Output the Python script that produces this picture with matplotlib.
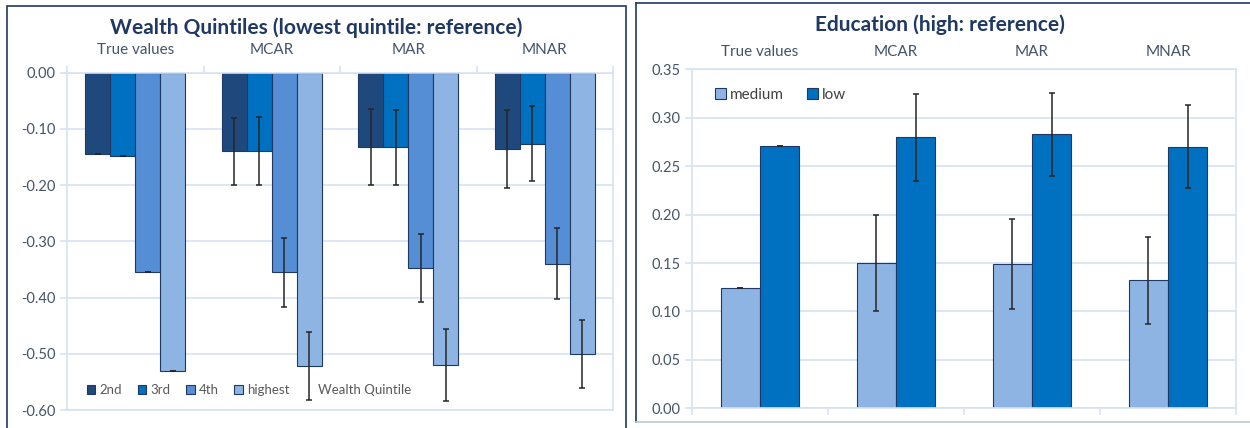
import matplotlib
matplotlib.use("Agg")
import matplotlib.pyplot as plt
import matplotlib.transforms as mtransforms
import numpy as np
from matplotlib.patches import Rectangle, Patch
from matplotlib.lines import Line2D

plt.rcParams['font.family'] = ['Lato', 'DejaVu Sans']

# data
groups = ['True values', 'MCAR', 'MAR', 'MNAR']
quintiles = ['2nd', '3rd', '4th', 'highest']
wealth_2nd = [-0.145, -0.140, -0.132, -0.136]
wealth_3rd = [-0.148, -0.139, -0.133, -0.126]
wealth_4th = [-0.354, -0.355, -0.347, -0.340]
wealth_highest = [-0.530, -0.522, -0.520, -0.500]
err_2nd = [0, 0.060, 0.067, 0.069]
err_3rd = [0, 0.061, 0.066, 0.066]
err_4th = [0, 0.061, 0.060, 0.063]
err_highest = [0, 0.061, 0.064, 0.060]

edu_levels = ['medium', 'low']
edu_medium = [0.124, 0.150, 0.149, 0.132]
edu_low = [0.271, 0.280, 0.283, 0.270]
err_medium = [0, 0.050, 0.046, 0.045]
err_low = [0, 0.045, 0.043, 0.043]

wealth_colors = ['#1F497D', '#0070C0', '#558ED5', '#8EB4E3']
edu_colors = ['#8EB4E3', '#0070C0']
navy = '#1F3864'
text_col = '#44546A'
grid_col = '#D6E2F4'

W, H = 1250, 428
fig = plt.figure(figsize=(W / 100, H / 100), dpi=100)

# panel frames
fig.patches.append(Rectangle((7 / W, -0.05), 619 / W, 1 - 6 / H + 0.05, transform=fig.transFigure,
                             fill=False, edgecolor=navy, linewidth=1.2))
fig.add_artist(Line2D([636 / W, 636 / W], [1 - 422 / H, 1 - 3 / H], color=navy, lw=1.2))
fig.add_artist(Line2D([636 / W, 1.0], [1 - 3 / H, 1 - 3 / H], color=navy, lw=1.2))
fig.add_artist(Line2D([636 / W, 1.0], [1 - 422 / H, 1 - 422 / H], color='#BFC7D5', lw=1.2))


def fmt(v):
    return f'{abs(v) if abs(v) < 1e-9 else v:.2f}'


def style_axes(ax):
    ax.grid(axis='y', color=grid_col, linewidth=1.2)
    ax.set_axisbelow(True)
    for s in ax.spines.values():
        s.set_color(grid_col)
        s.set_linewidth(1.2)
    ax.tick_params(axis='y', colors=grid_col, labelcolor=text_col, labelsize=10.5, length=5, width=1.2)
    ax.tick_params(axis='x', colors=grid_col, length=5, width=1.2, labelbottom=False, labeltop=False)


x = np.arange(len(groups))

# ---- left: wealth quintiles
ax1 = fig.add_axes([67 / W, 1 - 410 / H, 546 / W, (410 - 72.7) / H])
bw = 0.183
series = [wealth_2nd, wealth_3rd, wealth_4th, wealth_highest]
errs = [err_2nd, err_3rd, err_4th, err_highest]
handles = []
for i, (vals, e) in enumerate(zip(series, errs)):
    pos = x + (i - 1.5) * bw
    b = ax1.bar(pos, vals, bw, color=wealth_colors[i], edgecolor=navy, linewidth=0.8, label=quintiles[i])
    ax1.errorbar(pos, vals, yerr=e, fmt='none', ecolor='#262626', elinewidth=1.1, capsize=2.2, capthick=1.1)
    handles.append(b)
ax1.set_xlim(-0.5, 3.5)
ax1.set_ylim(-0.6, 0)
yt1 = np.arange(-0.6, 0.01, 0.1)
ax1.set_yticks(yt1)
ax1.set_yticklabels([fmt(v) for v in yt1])
ax1.set_xticks(np.arange(-0.5, 3.6, 1))
ax1.xaxis.set_ticks_position('top')
style_axes(ax1)
handles.append(Patch(facecolor='none', edgecolor='none', label='Wealth Quintile'))
leg1 = ax1.legend(handles=handles, labels=quintiles + ['Wealth Quintile'], ncol=5, loc='center left',
                  bbox_to_anchor=(0.024, 0.059), frameon=False, fontsize=9.5, handlelength=0.65,
                  handleheight=0.65, handletextpad=0.3, columnspacing=1.2, borderpad=0)
for t in leg1.get_texts():
    t.set_color('#595959')
fig.text(316 / W, 1 - 28 / H, 'Wealth Quintiles (lowest quintile: reference)', ha='center', va='center',
         fontsize=15, fontweight='bold', color=navy)
tr1 = mtransforms.blended_transform_factory(ax1.transData, fig.transFigure)
for i, g in enumerate(groups):
    ax1.text(i, 1 - 50 / H, g, transform=tr1, ha='center', va='center', fontsize=11, color=text_col)

# ---- right: education
ax2 = fig.add_axes([692 / W, 1 - 408.3 / H, 544 / W, 339 / H])
bw2 = 0.287
eseries = [edu_medium, edu_low]
eerrs = [err_medium, err_low]
handles2 = []
for i, (vals, e) in enumerate(zip(eseries, eerrs)):
    pos = x + (i - 0.5) * bw2
    b = ax2.bar(pos, vals, bw2, color=edu_colors[i], edgecolor=navy, linewidth=0.8, label=edu_levels[i])
    ax2.errorbar(pos, vals, yerr=e, fmt='none', ecolor='#262626', elinewidth=1.1, capsize=2.2, capthick=1.1)
    handles2.append(b)
ax2.set_xlim(-0.5, 3.5)
ax2.set_ylim(0, 0.35)
yt2 = np.arange(0, 0.351, 0.05)
ax2.set_yticks(yt2)
ax2.set_yticklabels([fmt(v) for v in yt2])
ax2.set_xticks(np.arange(-0.5, 3.6, 1))
style_axes(ax2)
leg2 = ax2.legend(handles=handles2, labels=edu_levels, ncol=2, loc='center left',
                  bbox_to_anchor=(0.028, 0.925), frameon=False, fontsize=11, handlelength=0.7,
                  handleheight=0.7, handletextpad=0.3, columnspacing=1.5, borderpad=0)
for t in leg2.get_texts():
    t.set_color('#404040')
fig.text(940 / W, 1 - 25 / H, 'Education (high: reference)', ha='center', va='center',
         fontsize=15, fontweight='bold', color=navy)
tr2 = mtransforms.blended_transform_factory(ax2.transData, fig.transFigure)
for i, g in enumerate(groups):
    ax2.text(i, 1 - 52 / H, g, transform=tr2, ha='center', va='center', fontsize=11, color=text_col)

fig.savefig('out.png', dpi=100)
